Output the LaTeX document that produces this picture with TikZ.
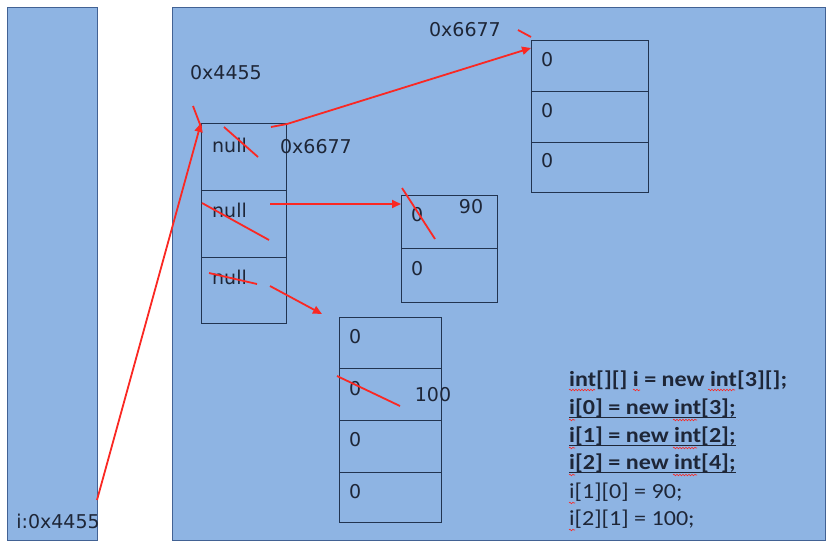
\documentclass[tikz,border=0pt]{standalone}
\usepackage{fontspec}
\setmainfont{DejaVu Sans}
\newfontfamily\codefont{Carlito}
\usetikzlibrary{arrows.meta,decorations.pathmorphing}
\definecolor{panelfill}{RGB}{142,180,227}
\definecolor{paneledge}{RGB}{66,98,148}
\definecolor{celledge}{RGB}{34,52,80}
\definecolor{inkred}{RGB}{250,40,35}
\definecolor{ink}{RGB}{30,38,55}
\tikzset{
  panel/.style={draw=paneledge, fill=panelfill, line width=1.3pt, inner sep=0pt, anchor=north west},
  cell/.style={draw=celledge, line width=1.1pt, inner sep=0pt, anchor=north west, minimum width=#1},
  celltext/.style={font=\fontsize{19}{22}\selectfont, text=ink, inner sep=0pt, anchor=west},
  addr/.style={font=\fontsize{19}{22}\selectfont, text=ink, inner sep=0pt},
  redarrow/.style={draw=inkred, line width=1.8pt, -{Triangle[length=9pt,width=8pt]}},
  strike/.style={draw=inkred, line width=1.8pt},
  codeline/.style={font=\codefont\fontsize{21.5}{24}\selectfont, text=ink, inner sep=0pt, anchor=west},
  ul/.style={draw=ink, line width=1pt},
  squig/.style={draw=inkred, line width=0.6pt, decorate, decoration={snake, amplitude=0.8pt, segment length=3pt}}
}
\begin{document}
\begin{tikzpicture}[x=1pt,y=-1pt]
\useasboundingbox (0,0) rectangle (834,549);
\fill[white] (0,0) rectangle (834,549);
% panels
\node[panel, minimum width=90pt, minimum height=533pt] (stack) at (7,7) {};
\node[panel, minimum width=653pt, minimum height=533pt] (heap) at (172,7) {};
% array A (outer)
\node[cell=85pt, minimum height=67pt] (a0) at (201,123) {};
\node[cell=85pt, minimum height=67pt] (a1) at (201,190) {};
\node[cell=85pt, minimum height=66pt] (a2) at (201,257) {};
% array B
\node[cell=117pt, minimum height=51pt] (b0) at (531,40) {};
\node[cell=117pt, minimum height=51pt] (b1) at (531,91) {};
\node[cell=117pt, minimum height=50pt] (b2) at (531,142) {};
% array C
\node[cell=96pt, minimum height=53pt] (c0) at (401,195) {};
\node[cell=96pt, minimum height=54pt] (c1) at (401,248) {};
% array D
\node[cell=102pt, minimum height=51pt] (d0) at (339,317) {};
\node[cell=102pt, minimum height=52pt] (d1) at (339,368) {};
\node[cell=102pt, minimum height=52pt] (d2) at (339,420) {};
\node[cell=102pt, minimum height=50pt] (d3) at (339,472) {};
% cell texts
\node[celltext] (ta0) at ([shift={(11,22)}]a0.north west) {null};
\node[celltext] (ta1) at ([shift={(11,20)}]a1.north west) {null};
\node[celltext] (ta2) at ([shift={(11,20)}]a2.north west) {null};
\node[celltext] (tb0) at ([shift={(10,20)}]b0.north west) {0};
\node[celltext] (tb1) at ([shift={(10,20)}]b1.north west) {0};
\node[celltext] (tb2) at ([shift={(10,19)}]b2.north west) {0};
\node[celltext] (tc0) at ([shift={(10,20)}]c0.north west) {0};
\node[celltext] (tc1) at ([shift={(10,21)}]c1.north west) {0};
\node[celltext] (td0) at ([shift={(10,20)}]d0.north west) {0};
\node[celltext] (td1) at ([shift={(10,21)}]d1.north west) {0};
\node[celltext] (td2) at ([shift={(10,20)}]d2.north west) {0};
\node[celltext] (td3) at ([shift={(10,20)}]d3.north west) {0};
% address labels
\node[addr] (addrA) at (226,73) {0x4455};
\node[addr] (addrB) at (465,30) {0x6677};
\node[addr] (addrB2) at (316,147) {0x6677};
\node[addr] (v90) at (471,207) {90};
\node[addr] (v100) at (433,395) {100};
\node[addr] (iref) at (58,521) {i:0x4455};
% connectors
\coordinate (iout) at (97,500);
\draw[redarrow] (iout) -- (a0.north west);
\coordinate (a0out) at (271,127);
\draw[redarrow] (a0out) -- (287,124) -- ([yshift=-8pt]b0.north west);
\coordinate (a1out) at (270,204);
\draw[redarrow] (a1out) -- ([yshift=-9pt]c0.north west);
\coordinate (a2out) at (270,286);
\coordinate (d0in) at (322,314);
\draw[redarrow] (a2out) -- (d0in);
% strike marks
\draw[strike] (193,106) -- (201,127);
\draw[strike] (518,30) -- (531,37);
\draw[strike] (224,127) -- (258,157);
\draw[strike] (202,203) -- (269,240);
\draw[strike] (209,273) -- (257,284);
\draw[strike] (402,188) -- (435,239);
\draw[strike] (337,376) -- (400,406);
% code
\node[codeline] (l1) at (569,380) {\scalebox{1.12}[1]{\bfseries int[][] i = new int[3][];}};
\node[codeline] (l2) at (569,408) {\scalebox{1.12}[1]{\bfseries i[0] = new int[3];}};
\node[codeline] (l3) at (569,436) {\scalebox{1.12}[1]{\bfseries i[1] = new int[2];}};
\node[codeline] (l4) at (569,463) {\scalebox{1.12}[1]{\bfseries i[2] = new int[4];}};
\node[codeline] (l5) at (569,492) {\scalebox{1.12}[1]{i[1][0] = 90;}};
\node[codeline] (l6) at (569,519) {\scalebox{1.12}[1]{i[2][1] = 100;}};
\draw[ul] ([yshift=-3pt]l2.base west) -- ([yshift=-3pt]l2.base east);
\draw[ul] ([yshift=-3pt]l3.base west) -- ([yshift=-3pt]l3.base east);
\draw[ul] ([yshift=-3pt]l4.base west) -- ([yshift=-3pt]l4.base east);
% spell-check squiggles
\draw[squig] (569,390) -- (595,390);
\draw[squig] (633,390) -- (640,390);
\draw[squig] (708,390) -- (735,390);
\draw[squig] (569,420) -- (575,420);
\draw[squig] (673,420) -- (697,420);
\draw[squig] (569,448) -- (575,448);
\draw[squig] (673,448) -- (697,448);
\draw[squig] (569,475) -- (575,475);
\draw[squig] (673,475) -- (697,475);
\draw[squig] (569,503) -- (575,503);
\draw[squig] (569,530) -- (575,530);
\end{tikzpicture}
\end{document}
